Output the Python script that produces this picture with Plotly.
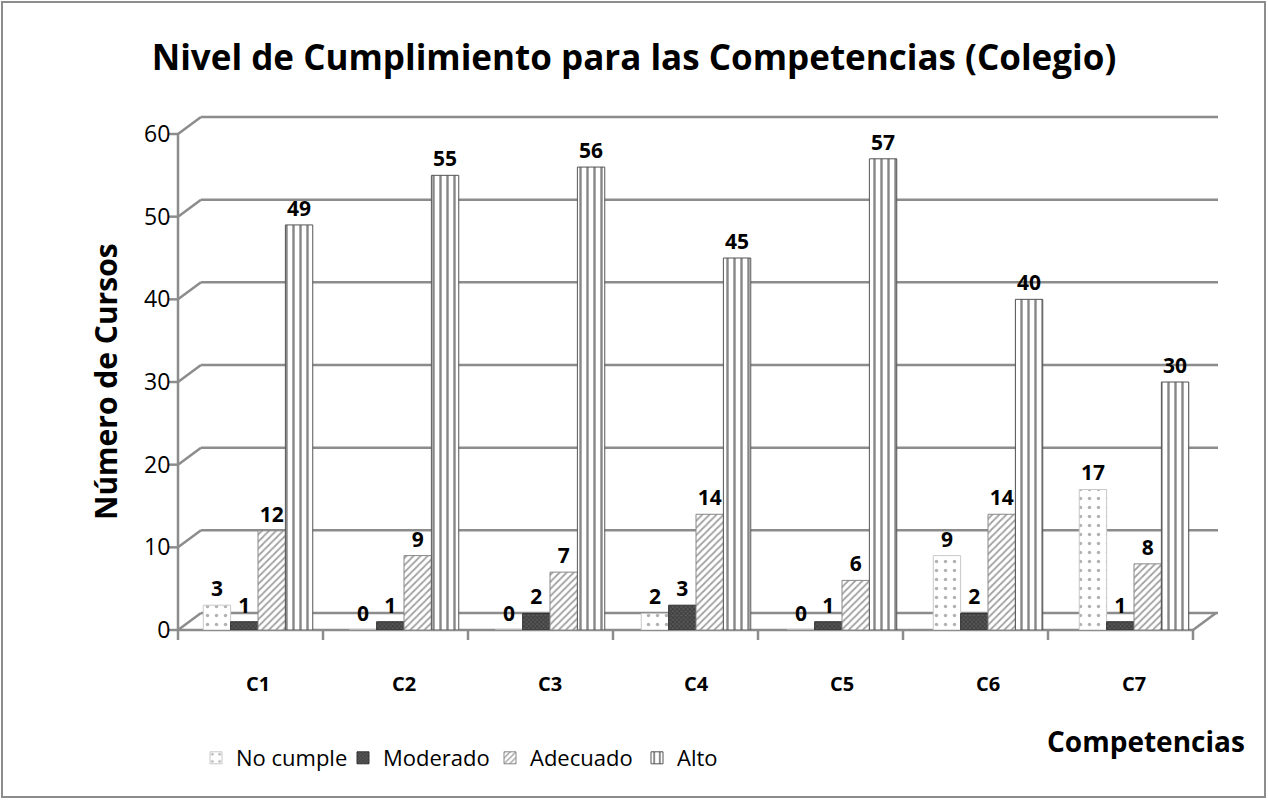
import plotly.graph_objects as go

categories = ["C1", "C2", "C3", "C4", "C5", "C6", "C7"]
no_cumple = [3, 0, 0, 2, 0, 9, 17]
moderado = [1, 1, 2, 3, 1, 2, 1]
adecuado = [12, 9, 7, 14, 6, 14, 8]
alto = [49, 55, 56, 45, 57, 40, 30]
series_names = ["No cumple", "Moderado", "Adecuado", "Alto"]
y_ticks = [0, 10, 20, 30, 40, 50, 60]

FONT = "Open Sans"
GRID = "#8c8c8c"

W, H = 1268, 800
L, R, T, B = 185, 61, 134, 170
pw, ph = W - L - R, H - T - B
BOTTOM = H - B
YMAX = 60
# pseudo-3D wall geometry (pixels)
FRONT_X0, FRONT_X1 = 178, 1193
DX, DY = 23, 17
BACK_X1 = 1218


def px(x):
    return (x - L) / pw


def py(y):
    return (BOTTOM - y) / ph


def vy(v):
    return BOTTOM - v * ph / YMAX


fig = go.Figure()
specs = [
    (no_cumple, dict(fillmode="overlay", bgcolor="white", fgcolor="#666666", shape=".", size=9, solidity=0.12), "#c8c8c8"),
    (moderado, dict(fillmode="overlay", bgcolor="#5a5a5a", fgcolor="#1a1a1a", shape="x", size=3, solidity=0.5), "#333333"),
    (adecuado, dict(fillmode="overlay", bgcolor="white", fgcolor="#444444", shape="/", size=5, solidity=0.35), "#888888"),
    (alto, dict(fillmode="overlay", bgcolor="white", fgcolor="#111111", shape="|", size=7, solidity=0.35), "#555555"),
]
for name, (vals, pat, lc) in zip(series_names, specs):
    fig.add_trace(go.Bar(
        x=categories, y=vals, name=name,
        marker=dict(color="white", pattern=pat, line=dict(color=lc, width=1)),
        text=[str(v) for v in vals], textposition="outside",
        textfont=dict(family=FONT, size=21, color="black", weight="bold"),
        cliponaxis=False,
    ))

fig.update_layout(
    width=W, height=H,
    margin=dict(l=L, r=R, t=T, b=B),
    paper_bgcolor="white", plot_bgcolor="rgba(0,0,0,0)",
    barmode="group", bargap=0.25, bargroupgap=0.0,
    font=dict(family=FONT, color="black"),
    title=dict(text="<b>Nivel de Cumplimiento para las Competencias (Colegio)</b>",
               x=(634 - L) / pw, xref="paper", xanchor="center", y=1 - 58 / H, yanchor="middle",
               font=dict(family=FONT, size=35, color="black")),
    showlegend=True,
    legend=dict(orientation="h", x=px(196), xanchor="left",
                y=py(737), yanchor="top",
                font=dict(family=FONT, size=22, color="black"),
                traceorder="normal", itemwidth=30, bgcolor="rgba(0,0,0,0)",
                entrywidth=102, tracegroupgap=0),
    uniformtext=dict(mode=False),
)
fig.update_yaxes(range=[0, YMAX], tickvals=y_ticks, showgrid=False,
                 showline=False, ticks="outside", ticklen=9,
                 tickcolor="rgba(0,0,0,0)", tickfont=dict(family=FONT, size=23, color="black"),
                 zeroline=False)
fig.update_xaxes(showline=False, ticks="outside", ticklen=10, tickcolor="rgba(0,0,0,0)",
                 tickfont=dict(family=FONT, size=20, color="black", weight="bold"),
                 ticklabelstandoff=26)

line = dict(color=GRID, width=2.5)
# back-wall gridlines with diagonal connectors
for v in y_ticks:
    yf = vy(v)
    fig.add_shape(type="line", xref="paper", yref="paper", x0=px(FRONT_X0), y0=py(yf),
                  x1=px(FRONT_X0 + DX), y1=py(yf - DY), line=line, layer="below")
    fig.add_shape(type="line", xref="paper", yref="paper", x0=px(FRONT_X0 + DX), y0=py(yf - DY),
                  x1=px(BACK_X1), y1=py(yf - DY), line=line, layer="below")
    fig.add_shape(type="line", xref="paper", yref="paper", x0=px(FRONT_X0 - 9), y0=py(yf),
                  x1=px(FRONT_X0), y1=py(yf), line=line, layer="below")
# floor front edge and right diagonal
fig.add_shape(type="line", xref="paper", yref="paper", x0=px(FRONT_X0), y0=py(BOTTOM),
              x1=px(FRONT_X1), y1=py(BOTTOM), line=line, layer="below")
fig.add_shape(type="line", xref="paper", yref="paper", x0=px(FRONT_X1), y0=py(BOTTOM),
              x1=px(FRONT_X1 + DX), y1=py(BOTTOM - DY), line=line, layer="below")
# vertical axis line
fig.add_shape(type="line", xref="paper", yref="paper", x0=px(FRONT_X0), y0=py(BOTTOM + 10),
              x1=px(FRONT_X0), y1=py(vy(YMAX)), line=line, layer="below")
# category boundary ticks
n = len(categories)
step = (FRONT_X1 - FRONT_X0) / n
for k in range(1, n + 1):
    xk = FRONT_X0 + k * step
    fig.add_shape(type="line", xref="paper", yref="paper", x0=px(xk), y0=py(BOTTOM),
                  x1=px(xk), y1=py(BOTTOM + 10), line=line, layer="below")

fig.add_annotation(text="<b>Número de Cursos</b>", xref="paper", yref="paper",
                   x=px(105), y=py(382), textangle=-90, showarrow=False,
                   xanchor="center", yanchor="middle",
                   font=dict(family=FONT, size=30, color="black"))
fig.add_annotation(text="<b>Competencias</b>", xref="paper", yref="paper",
                   x=px(1247), y=py(741), showarrow=False,
                   xanchor="right", yanchor="middle",
                   font=dict(family=FONT, size=28, color="black"))
fig.add_shape(type="rect", xref="paper", yref="paper",
              x0=px(2), x1=px(1265), y0=py(797), y1=py(2),
              line=dict(color="#8c8c8c", width=2), fillcolor="rgba(0,0,0,0)", layer="below")

fig.write_html("out.html", config={"displayModeBar": False},
               post_script="document.body.style.margin='0px';document.body.style.overflow='hidden';")
